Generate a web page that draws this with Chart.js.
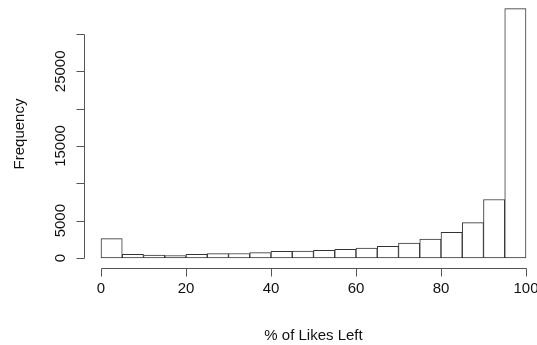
<!DOCTYPE html>
<html lang="en">
<head>
    <meta charset="UTF-8">
    <title>% of Likes Left</title>
    <script src="https://cdn.jsdelivr.net/npm/chart.js@4"></script>
    <style>
        html, body { margin: 0; padding: 0; background: #fff; overflow: hidden; }
        #hist { display: block; }
    </style>
</head>
<body>
    <canvas id="hist" width="560" height="345"></canvas>

    <script>
      // histogram bins (width 5) and their counts
      const binStarts = [0, 5, 10, 15, 20, 25, 30, 35, 40, 45, 50, 55, 60, 65, 70, 75, 80, 85, 90, 95];
      const binWidth = 5;
      const frequencies = [2600, 495, 405, 320, 495, 585, 600, 720, 900, 920,
                           1030, 1165, 1345, 1565, 2015, 2545, 3440, 4740, 7830, 33400];
      const xTicks = [0, 20, 40, 60, 80, 100];
      const yTicks = [0, 5000, 10000, 15000, 20000, 25000, 30000];
      const yTickLabels = ['0', '5000', '', '15000', '', '25000', ''];
      const xTitle = '% of Likes Left';
      const yTitle = 'Frequency';

      const FONT = '15px "Liberation Sans", Arial, sans-serif';

      // R style axes: detached from the bars, drawn from the chart scales
      const baseAxes = {
        id: 'baseAxes',
        afterDraw(chart) {
          const ctx = chart.ctx;
          const xs = chart.scales.x;
          const ys = chart.scales.y;
          const area = chart.chartArea;
          const axisY = Math.round(area.bottom) + 0.5;
          const axisX = Math.round(area.left) + 0.5;
          const tick = 8;

          ctx.save();
          ctx.strokeStyle = '#555';
          ctx.lineWidth = 1;
          ctx.fillStyle = '#111';
          ctx.font = FONT;

          // x axis
          const x0 = Math.round(xs.getPixelForValue(xTicks[0])) + 0.5;
          const x1 = Math.round(xs.getPixelForValue(xTicks[xTicks.length - 1])) + 0.5;
          ctx.beginPath();
          ctx.moveTo(x0, axisY);
          ctx.lineTo(x1, axisY);
          xTicks.forEach(v => {
            const px = Math.round(xs.getPixelForValue(v)) + 0.5;
            ctx.moveTo(px, axisY);
            ctx.lineTo(px, axisY + tick);
          });
          ctx.stroke();
          ctx.textAlign = 'center';
          ctx.textBaseline = 'middle';
          xTicks.forEach(v => {
            ctx.fillText(String(v), xs.getPixelForValue(v), axisY + 20);
          });
          ctx.fillText(xTitle, (area.left + area.right) / 2, axisY + 67);

          // y axis
          const y0 = Math.round(ys.getPixelForValue(yTicks[0])) + 0.5;
          const y1 = Math.round(ys.getPixelForValue(yTicks[yTicks.length - 1])) + 0.5;
          ctx.beginPath();
          ctx.moveTo(axisX, y0);
          ctx.lineTo(axisX, y1);
          yTicks.forEach(v => {
            const py = Math.round(ys.getPixelForValue(v)) + 0.5;
            ctx.moveTo(axisX, py);
            ctx.lineTo(axisX - tick, py);
          });
          ctx.stroke();
          yTicks.forEach((v, i) => {
            if (!yTickLabels[i]) return;
            ctx.save();
            ctx.translate(axisX - 24, ys.getPixelForValue(v));
            ctx.rotate(-Math.PI / 2);
            ctx.fillText(yTickLabels[i], 0, 0);
            ctx.restore();
          });
          ctx.save();
          ctx.translate(20, (area.top + area.bottom) / 2);
          ctx.rotate(-Math.PI / 2);
          ctx.fillText(yTitle, 0, 0);
          ctx.restore();

          ctx.restore();
        }
      };

      const histData = binStarts.map((start, i) => ({ x: start + binWidth / 2, y: frequencies[i] }));

      new Chart(document.getElementById('hist'), {
        type: 'bar',
        data: {
          datasets: [{
            data: histData,
            backgroundColor: '#ffffff',
            borderColor: '#333333',
            borderWidth: 1,
            borderSkipped: false,
            categoryPercentage: 1,
            barPercentage: 1,
            grouped: false
          }]
        },
        options: {
          responsive: false,
          animation: false,
          devicePixelRatio: 1,
          layout: { padding: { left: 84, right: 17, top: 0, bottom: 77 } },
          plugins: {
            legend: { display: false },
            tooltip: { enabled: false }
          },
          scales: {
            x: {
              type: 'linear',
              display: false,
              offset: false,
              min: -4,
              max: 104,
              afterBuildTicks: scale => {
                scale.ticks = xTicks.map(v => ({ value: v }));
              }
            },
            y: {
              type: 'linear',
              display: false,
              min: -1339,
              max: 34554
            }
          }
        },
        plugins: [baseAxes]
      });
    </script>
</body>
</html>
